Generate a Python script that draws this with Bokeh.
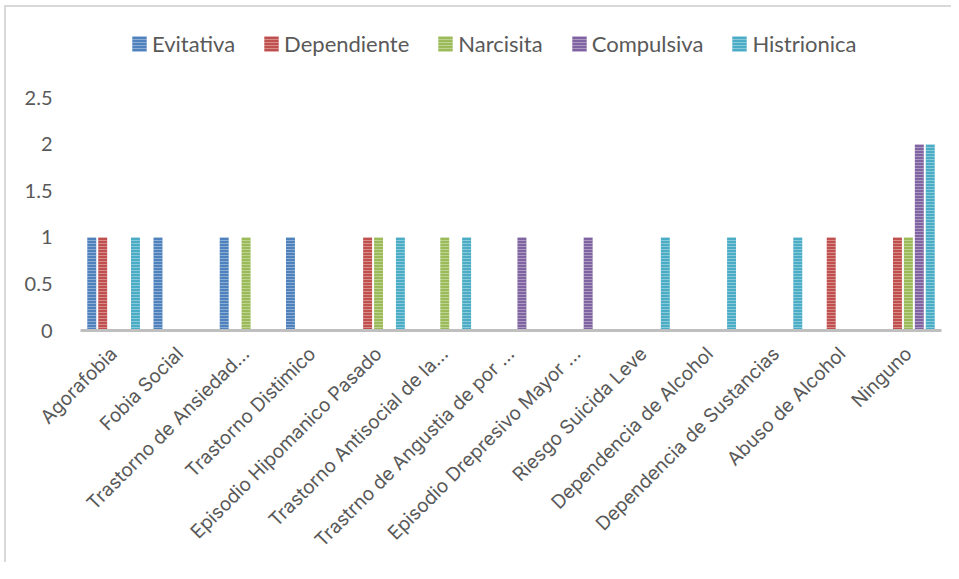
from bokeh.plotting import figure
from bokeh.models import ColumnDataSource, FactorRange, FixedTicker, Legend, LegendItem
from bokeh.transform import dodge
from bokeh.embed import file_html
from bokeh.resources import INLINE

categories = [
    "Agorafobia", "Fobia Social", "Trastorno de Ansiedad…", "Trastorno Distimico",
    "Episodio Hipomanico Pasado", "Trastorno Antisocial de la…",
    "Trastrno de Angustia de por …", "Episodio Drepresivo Mayor …",
    "Riesgo Suicida Leve", "Dependencia de Alcohol", "Dependencia de Sustancias",
    "Abuso de Alcohol", "Ninguno",
]
series_names = ["Evitativa", "Dependiente", "Narcisita", "Compulsiva", "Histrionica"]
evitativa = [1, 1, 1, 1, 0, 0, 0, 0, 0, 0, 0, 0, 0]
dependiente = [1, 0, 0, 0, 1, 0, 0, 0, 0, 0, 0, 1, 1]
narcisita = [0, 0, 1, 0, 1, 1, 0, 0, 0, 0, 0, 0, 1]
compulsiva = [0, 0, 0, 0, 0, 0, 1, 1, 0, 0, 0, 0, 2]
histrionica = [1, 0, 0, 0, 1, 1, 0, 0, 1, 1, 1, 0, 2]
y_ticks = [0, 0.5, 1, 1.5, 2, 2.5]
y_tick_labels = ["0", "0.5", "1", "1.5", "2", "2.5"]

series_values = [evitativa, dependiente, narcisita, compulsiva, histrionica]
colors = ["#4F81BD", "#C0504D", "#9BBB59", "#8064A2", "#4BACC6"]
offsets = [-0.33, -0.165, 0.0, 0.165, 0.33]

TEXT = "#595959"

p = figure(
    x_range=FactorRange(*categories, range_padding=0),
    y_range=(0, 3.3),
    width=955, height=574,
    frame_width=861, frame_height=307,
    min_border_left=74, min_border_top=16, min_border_right=10, min_border_bottom=10,
    output_backend="svg", toolbar_location=None,
)
p.margin = (5, 0, 0, 4)
p.styles = {"border-left": "2px solid #d9d9d9", "border-top": "2px solid #d9d9d9"}
p.outline_line_color = None
p.background_fill_color = "white"
p.border_fill_color = "white"
p.xgrid.visible = False
p.ygrid.visible = False

hatch = dict(hatch_pattern="horizontal_line", hatch_color="white", hatch_alpha=0.35,
             hatch_scale=3, hatch_weight=1)

items = []
for name, vals, col, off in zip(series_names, series_values, colors, offsets):
    cats = [c for c, v in zip(categories, vals) if v != 0]
    tops = [v for v in vals if v != 0]
    src = ColumnDataSource(dict(cat=cats, top=tops))
    r = p.vbar(
        x=dodge("cat", off, range=p.x_range), top="top", width=0.135, source=src,
        fill_color=col, line_color=None, **hatch,
    )
    items.append(LegendItem(label=name, renderers=[r]))

# Y axis
yax = p.yaxis[0]
yax.ticker = FixedTicker(ticks=y_ticks)
yax.major_label_overrides = {t: l for t, l in zip(y_ticks, y_tick_labels)}
yax.axis_line_color = None
yax.major_tick_line_color = None
yax.minor_tick_line_color = None
yax.major_label_text_font = "Lato"
yax.major_label_text_font_size = "20px"
yax.major_label_text_color = TEXT
yax.major_label_standoff = 22

# X axis
xax = p.xaxis[0]
xax.axis_line_color = "#BFBFBF"
xax.axis_line_width = 3
xax.major_tick_line_color = None
xax.minor_tick_line_color = None
xax.major_label_orientation = 0.785398
xax.major_label_text_font = "Inter"
xax.major_label_text_font_size = "19px"
xax.major_label_text_color = TEXT
xax.major_label_standoff = 14

legend = Legend(
    items=items,
    orientation="horizontal",
    location=(50, 273),
    border_line_color=None,
    background_fill_alpha=0,
    padding=0, margin=0,
    spacing=27,
    glyph_width=18, glyph_height=19,
    label_standoff=4,
    label_text_font="Lato",
    label_text_font_size="22px",
    label_text_color=TEXT,
)
p.add_layout(legend)

open("out.html", "w").write(file_html(p, INLINE))
